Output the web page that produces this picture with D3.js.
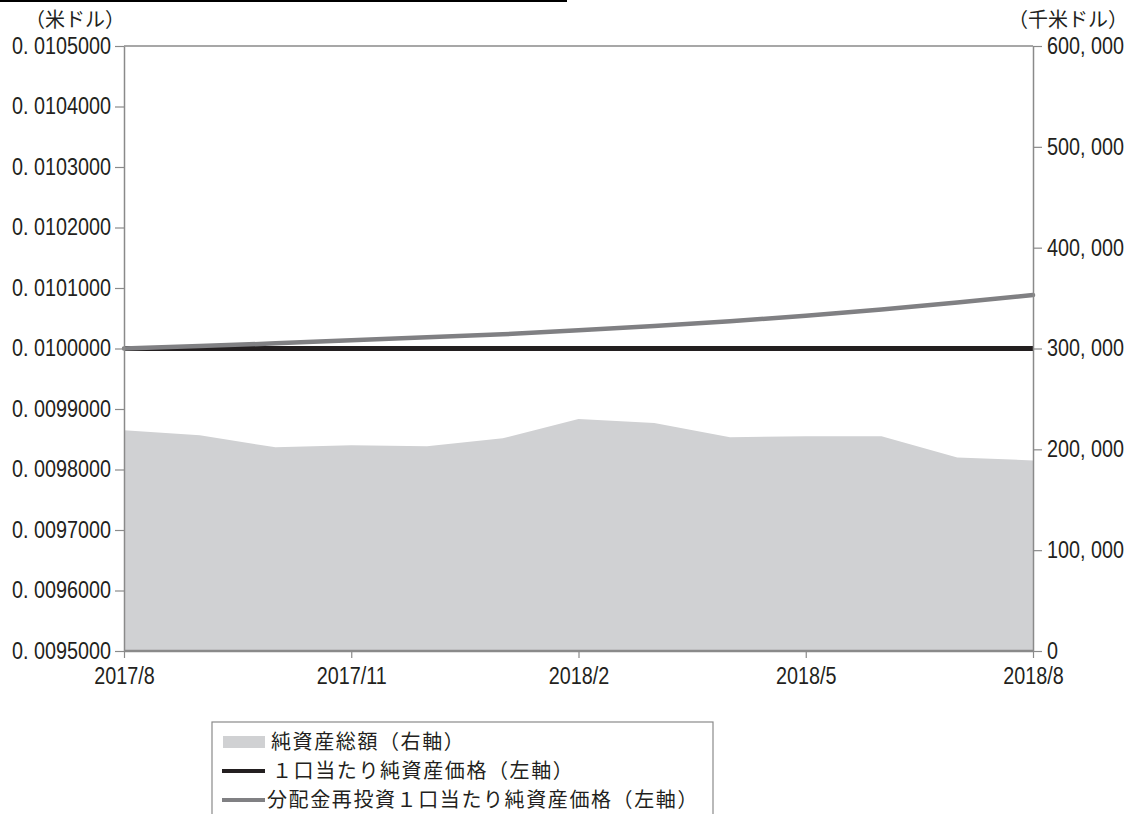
<!DOCTYPE html>
<html>
<head>
<meta charset="utf-8">
<script src="https://cdn.jsdelivr.net/npm/d3@7"></script>
<style>
  body { margin:0; background:#fff; }
  svg { display:block; }
</style>
</head>
<body>
<div class="canvas"></div>
<script>

// data (monthly, 2017/8 -> 2018/8)
var months = ["2017/8","2017/9","2017/10","2017/11","2017/12","2018/1","2018/2","2018/3","2018/4","2018/5","2018/6","2018/7","2018/8"];
var navPerUnit = [0.0100000,0.0100000,0.0100000,0.0100000,0.0100000,0.0100000,0.0100000,0.0100000,0.0100000,0.0100000,0.0100000,0.0100000,0.0100000];
var navReinvest = [0.0100000,0.0100040,0.0100085,0.0100135,0.0100185,0.0100235,0.0100300,0.0100370,0.0100450,0.0100540,0.0100645,0.0100760,0.0100883];
var totalAssets = [219000,214000,202000,204000,203000,211000,230000,226000,212000,213000,213000,192000,189000];

var leftTicks = [0.0095,0.0096,0.0097,0.0098,0.0099,0.0100,0.0101,0.0102,0.0103,0.0104,0.0105];
var rightTicks = [0,100000,200000,300000,400000,500000,600000];
var xTickLabels = ["2017/8","2017/11","2018/2","2018/5","2018/8"];

var legendItems = ["純資産総額（右軸）","１口当たり純資産価格（左軸）","分配金再投資１口当たり純資産価格（左軸）"];

var W = 1128, H = 814;
var margin = {t:46,l:124,b:163,r:95};
var width = W-margin.l-margin.r,
    height = H-margin.t-margin.b;

var numFont = "'Liberation Sans',Arial,sans-serif";
var jpFont = "'Noto Sans CJK JP',sans-serif";
var textCol = "#231f20";
var axisCol = "#8a8a8a";
var squeeze = 0.86;   // the original uses a narrow face for numbers

var svg = d3.select('.canvas')
    .append('svg')
    .attr('width',W)
    .attr('height',H);

// header rule
svg.append('rect').attr('x',0).attr('y',0).attr('width',567).attr('height',2).attr('fill','#000');

var g = svg.append("g")
    .attr("transform", "translate(" + margin.l + "," + margin.t + ")");

var x = d3.scalePoint().domain(months).range([0,width]);
var yL = d3.scaleLinear().domain([0.0095,0.0105]).range([height,0]);
var yR = d3.scaleLinear().domain([0,600000]).range([height,0]);

// area (right axis)
var area = d3.area()
    .x(function(d,i){ return x(months[i]); })
    .y0(height)
    .y1(function(d){ return yR(d); });

g.append('path')
    .datum(totalAssets)
    .attr('d',area)
    .attr('fill','#d0d1d3');

// lines (left axis)
var line = d3.line()
    .x(function(d,i){ return x(months[i]); })
    .y(function(d){ return yL(d); });

g.append('path')
    .datum(navPerUnit)
    .attr('d',line)
    .attr('fill','none')
    .attr('stroke','#231f20')
    .attr('stroke-width',5);

g.append('path')
    .datum(navReinvest)
    .attr('d',line)
    .attr('fill','none')
    .attr('stroke','#808083')
    .attr('stroke-width',4.5)
    .attr('stroke-linecap','round');

// frame lines
g.append('line').attr('x1',0).attr('x2',width).attr('y1',0).attr('y2',0).attr('stroke',axisCol).attr('stroke-width',1.5);
g.append('line').attr('x1',0).attr('x2',width).attr('y1',height).attr('y2',height).attr('stroke',axisCol).attr('stroke-width',2.5);

// axes
var fmtL = function(d){ return d3.format('.7f')(d).replace('.', '. '); };
var fmtR = function(d){ return d3.format(',')(d).replace(/,/g, ', '); };

var axL = g.append('g')
    .call(d3.axisLeft(yL).tickValues(leftTicks).tickFormat(fmtL).tickSize(9).tickSizeOuter(0).tickPadding(4));
var axR = g.append('g')
    .attr('transform','translate(' + width + ',0)')
    .call(d3.axisRight(yR).tickValues(rightTicks).tickFormat(fmtR).tickSize(9).tickSizeOuter(0).tickPadding(5));
var axB = g.append('g')
    .attr('transform','translate(0,' + height + ')')
    .call(d3.axisBottom(x).tickValues(xTickLabels).tickSize(7).tickSizeOuter(0));

axB.selectAll('.tick text').attr('y',17).attr('dy','0.71em');

[axL,axR,axB].forEach(function(a){
    a.select('.domain').attr('stroke',axisCol).attr('stroke-width',1.5);
    a.selectAll('.tick line').attr('stroke',axisCol).attr('stroke-width',1.2);
    a.selectAll('.tick text')
        .attr('fill',textCol)
        .attr('font-family',numFont)
        .attr('font-size','23px')
        .each(function(){
            var t = d3.select(this);
            var x0 = +t.attr('x') || 0;
            t.attr('x', x0/squeeze).attr('transform','scale(' + squeeze + ',1)');
        });
});
axB.select('.domain').remove();

// unit labels
svg.append('text')
    .attr('x',25).attr('y',26.5)
    .attr('font-family',jpFont).attr('font-size','20px').attr('fill',textCol)
    .text('（米ドル）');
svg.append('text')
    .attr('x',1128).attr('y',26.5)
    .attr('text-anchor','end')
    .attr('font-family',jpFont).attr('font-size','20px').attr('fill',textCol)
    .text('（千米ドル）');

// legend
var lg = svg.append('g').attr('transform','translate(212,722)');
lg.append('rect')
    .attr('x',0).attr('y',0).attr('width',501).attr('height',110)
    .attr('fill','#fff').attr('stroke',axisCol).attr('stroke-width',1.2);

var rowY = [20,49,78];
var textX = [59,60,55];
legendItems.forEach(function(t,i){
    if(i===0){
        lg.append('rect').attr('x',11).attr('y',rowY[i]-6).attr('width',42).attr('height',12).attr('fill','#d0d1d3');
    } else {
        lg.append('line').attr('x1',10).attr('x2',53).attr('y1',rowY[i]).attr('y2',rowY[i])
            .attr('stroke', i===1 ? '#231f20' : '#808083').attr('stroke-width',4);
    }
    lg.append('text')
        .attr('x',textX[i])
        .attr('y',rowY[i])
        .attr('dy','0.36em')
        .attr('font-family',jpFont).attr('font-size','20px')
        .attr('letter-spacing','1.6px')
        .attr('fill',textCol)
        .text(t);
});

</script>
</body>
</html>
